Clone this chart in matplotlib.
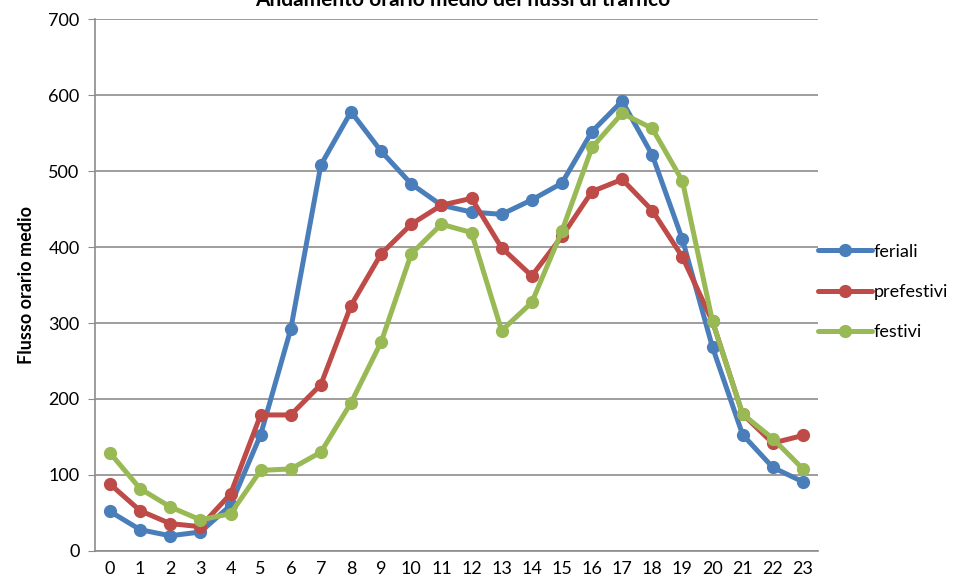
import numpy as np
import matplotlib.pyplot as plt

ore = list(range(24))
feriali = [52, 28, 20, 25, 60, 153, 292, 508, 578, 526, 483, 455, 446, 443, 462, 484,
           552, 592, 521, 410, 268, 153, 110, 91]
prefestivi = [88, 53, 36, 32, 75, 179, 179, 219, 323, 391, 430, 455, 464, 399, 362, 414,
              473, 489, 448, 387, 302, 180, 142, 152]
festivi = [129, 82, 58, 41, 49, 106, 108, 130, 195, 275, 391, 430, 419, 290, 327, 421,
           531, 576, 556, 487, 302, 180, 148, 108]

plt.rcParams['font.family'] = ['Lato', 'DejaVu Sans']

fig = plt.figure(figsize=(9.64, 5.82), dpi=100)
ax = fig.add_axes([0.0985, 0.0533, 0.75, 0.914])

colori = ['#4A7EBB', '#BE4B48', '#98B954']
nomi = ['feriali', 'prefestivi', 'festivi']
for serie, col, nome in zip([feriali, prefestivi, festivi], colori, nomi):
    ax.plot(ore, serie, color=col, lw=3.6, marker='o', ms=8.5, label=nome,
            solid_capstyle='round', solid_joinstyle='round', clip_on=False)

ax.set_xlim(-0.5, 23.5)
ax.set_ylim(0, 700)
ax.set_yticks(range(0, 701, 100))
ax.set_xticks(ore)
ax.set_xticklabels([str(h) for h in ore])
ax.grid(axis='y', color='#8C8C8C', lw=1.2)
ax.set_axisbelow(True)
for s in ['top', 'right']:
    ax.spines[s].set_visible(False)
for s in ['left', 'bottom']:
    ax.spines[s].set_color('#8C8C8C')
    ax.spines[s].set_linewidth(1.2)
ax.tick_params(axis='y', length=5, color='#8C8C8C', labelsize=13, pad=6)
ax.tick_params(axis='x', length=0, labelsize=13, pad=7)

ax.set_ylabel('Flusso orario medio', fontsize=13, fontweight='bold', labelpad=10)
# titolo tagliato in alto come nell'originale
fig.text(0.48, 1 - 6 / 582, 'Andamento orario medio dei flussi di traffico',
         fontsize=15, fontweight='bold', ha='center', va='baseline')

ax.legend(loc='center left', bbox_to_anchor=(0.99, 0.487), frameon=False,
          fontsize=13, handlelength=3.0, labelspacing=1.35, handletextpad=0.1,
          borderaxespad=0.0)

fig.savefig('out.png', dpi=100)
